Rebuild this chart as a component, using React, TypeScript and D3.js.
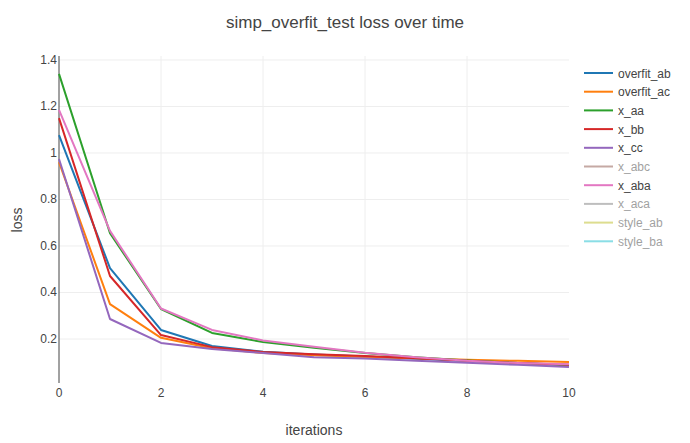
import React from "react";
import * as d3 from "d3";

const iterations = [0, 1, 2, 3, 4, 5, 6, 7, 8, 9, 10];
const seriesNames = ["overfit_ab", "overfit_ac", "x_aa", "x_bb", "x_cc", "x_abc", "x_aba", "x_aca", "style_ab", "style_ba"];
const seriesColors = ["#1f77b4", "#ff7f0e", "#2ca02c", "#d62728", "#9467bd", "#8c564b", "#e377c2", "#7f7f7f", "#bcbd22", "#17becf"];
const seriesVisible = [true, true, true, true, true, false, true, false, false, false];

const overfit_ab = [1.077, 0.505, 0.239, 0.17, 0.145, 0.133, 0.125, 0.115, 0.105, 0.096, 0.088];
const overfit_ac = [0.96, 0.35, 0.205, 0.16, 0.14, 0.13, 0.123, 0.117, 0.111, 0.106, 0.101];
const x_aa = [1.34, 0.655, 0.329, 0.226, 0.187, 0.162, 0.14, 0.122, 0.108, 0.097, 0.088];
const x_bb = [1.15, 0.471, 0.217, 0.165, 0.144, 0.134, 0.127, 0.117, 0.106, 0.097, 0.089];
const x_cc = [0.974, 0.286, 0.183, 0.157, 0.14, 0.122, 0.116, 0.107, 0.098, 0.089, 0.08];
const x_aba = [1.185, 0.665, 0.331, 0.239, 0.194, 0.167, 0.141, 0.122, 0.106, 0.097, 0.091];

const seriesValues: (number[] | null)[] = [overfit_ab, overfit_ac, x_aa, x_bb, x_cc, null, x_aba, null, null, null];

const xTicks = [0, 2, 4, 6, 8, 10];
const yTicks = [0.2, 0.4, 0.6, 0.8, 1, 1.2, 1.4];

const W = 690;
const H = 443;
const FONT = "'Liberation Sans', Arial, sans-serif";

export default function App() {
  const x = d3.scaleLinear().domain([0, 10]).range([59, 569]);
  const y = d3.scaleLinear().domain([0.0108, 1.417]).range([383, 56]);
  const line = d3
    .line<number>()
    .x((_, i) => x(iterations[i]))
    .y((d) => y(d));
  const fmt = d3.format("~g");

  return (
    <svg
      width={W}
      height={H}
      style={{ position: "absolute", left: 0, top: 0, background: "#fff" }}
      fontFamily={FONT}
    >
      <rect x={0} y={0} width={W} height={H} fill="#fff" />
      {/* grid */}
      {xTicks
        .filter((t) => t !== 0 && t !== 10)
        .map((t) => (
          <line key={"gx" + t} x1={x(t)} x2={x(t)} y1={56} y2={383} stroke="#eee" strokeWidth={1} />
        ))}
      {yTicks.map((t) => (
        <line key={"gy" + t} x1={59} x2={569} y1={y(t)} y2={y(t)} stroke="#eee" strokeWidth={1} />
      ))}
      {/* zero line */}
      <line x1={x(0)} x2={x(0)} y1={56} y2={383} stroke="#444" strokeWidth={1} />
      {/* lines */}
      {seriesValues.map((vals, i) =>
        vals && seriesVisible[i] ? (
          <path
            key={seriesNames[i]}
            d={line(vals) || ""}
            fill="none"
            stroke={seriesColors[i]}
            strokeWidth={2}
            strokeLinejoin="round"
          />
        ) : null
      )}
      {/* tick labels */}
      {xTicks.map((t) => (
        <text key={"tx" + t} x={x(t)} y={397} fontSize={12} fill="#444" textAnchor="middle">
          {fmt(t)}
        </text>
      ))}
      {yTicks.map((t) => (
        <text key={"ty" + t} x={57} y={y(t) + 4} fontSize={12} fill="#444" textAnchor="end">
          {fmt(t)}
        </text>
      ))}
      {/* title */}
      <text x={345} y={28} fontSize={17} fill="#444" textAnchor="middle">
        simp_overfit_test loss over time
      </text>
      {/* axis titles */}
      <text x={314} y={435} fontSize={14} fill="#444" textAnchor="middle">
        iterations
      </text>
      <text
        x={0}
        y={0}
        fontSize={14}
        fill="#444"
        textAnchor="middle"
        transform={`translate(22,220) rotate(-90)`}
      >
        loss
      </text>
      {/* legend */}
      {seriesNames.map((name, i) => {
        const ly = 73 + i * 18.7;
        const op = seriesVisible[i] ? 1 : 0.5;
        return (
          <g key={"lg" + name} opacity={op}>
            <line x1={584} x2={613} y1={ly} y2={ly} stroke={seriesColors[i]} strokeWidth={2} />
            <text x={618} y={ly + 4.5} fontSize={12} fill="#444">
              {name}
            </text>
          </g>
        );
      })}
    </svg>
  );
}
